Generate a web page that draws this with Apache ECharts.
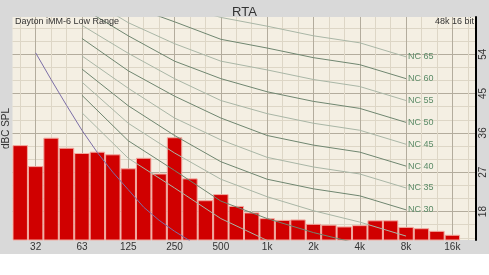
<!DOCTYPE html>
<html>
<head>
<meta charset="utf-8">
<script src="https://cdn.jsdelivr.net/npm/echarts@6/dist/echarts.min.js"></script>
<style>
html,body{margin:0;padding:0;background:#fff;}
#c{width:489px;height:275px;}
</style>
</head>
<body>
<div id="c"></div>
<script>
// 1/3-octave band centres (last slot empty)
const categories = ['25','31.5','40','50','63','80','100','125','160','200','250','315','400','500','630','800','1k','1.25k','1.6k','2k','2.5k','3.15k','4k','5k','6.3k','8k','10k','12.5k','16k','20k'];
const octaveLabels = ['32','63','125','250','500','1k','2k','4k','8k','16k'];
const yLabels = [18, 27, 36, 45, 54];
const yGrid = [12,15,18,21,24,27,30,33,36,39,42,45,48,51,54,57,60];

// RTA levels (dBC SPL) per band
const rtaLevels = [33.2,28.4,34.9,32.6,31.4,31.7,31.1,27.9,30.3,26.7,35.0,25.6,20.6,22.0,19.3,17.8,16.5,16.1,16.2,15.2,15.0,14.6,14.9,16.0,16.0,14.5,14.2,13.6,12.7,null];

// NC curves, values at octave bands 63..8k
const ncOctaveIdx = [4,7,10,13,16,19,22,25];
const nc65 = [73.6,69.2,65.4,62.4,60.4,58.2,56.6,53.4];
const nc60 = [70.6,65.2,61.4,57.4,55.4,53.2,51.6,48.4];
const nc55 = [67.6,61.2,56.4,52.4,50.4,48.2,46.6,43.4];
const nc50 = [64.6,58.2,52.4,48.4,45.4,43.2,41.6,38.4];
const nc45 = [60.6,54.2,48.4,43.4,40.4,38.2,36.6,33.4];
const nc40 = [57.6,50.2,44.4,39.4,35.4,33.2,31.6,28.4];
const nc35 = [53.6,46.2,39.4,34.4,30.4,28.2,26.6,23.4];
const nc30 = [50.6,42.2,35.4,29.4,25.4,23.2,21.6,18.4];
const nc25 = [47.6,38.2,31.4,25.4,21.4,18.2,15.6,12.4];
const nc20 = [44.6,34.2,27.4,20.4,16.4,13.2,10.6,7.4];
const nc15 = [40.6,30.2,23.4,16.4,11.4,8.2,5.6,2.4];

// purple reference line
const refIdx = [1,2,3,4,5,6,7,8,9,10,11];
const refVals = [54.3,48.2,42.3,36.6,31.5,27.0,23.0,19.0,16.0,13.5,11.3];

function spread(idx, vals){
  const arr = categories.map(() => null);
  idx.forEach((k,i) => { arr[k] = vals[i]; });
  return arr;
}

const ncList = [
  ['NC 65', nc65, false], ['NC 60', nc60, true], ['NC 55', nc55, false], ['NC 50', nc50, true],
  ['NC 45', nc45, false], ['NC 40', nc40, true], ['NC 35', nc35, false], ['NC 30', nc30, true],
  ['', nc25, false], ['', nc20, true], ['', nc15, false]
];

const series = [{
  type: 'bar',
  data: rtaLevels,
  barCategoryGap: '0%',
  itemStyle: { color: '#d00000', borderColor: '#f1aaa0', borderWidth: 1 },
  z: 2,
  silent: true
}];

ncList.forEach(([name, vals, dark]) => {
  series.push({
    type: 'line',
    data: spread(ncOctaveIdx, vals),
    connectNulls: true,
    showSymbol: false,
    symbol: 'none',
    lineStyle: { color: dark ? '#6f8670' : '#a9b6a6', width: 1 },
    z: 3,
    silent: true,
    endLabel: name ? { show: true, formatter: name, color: '#5b8b67', fontSize: 9, fontFamily: 'Liberation Sans, Arial, sans-serif', distance: 2 } : { show: false }
  });
});

series.push({
  type: 'line',
  data: spread(refIdx, refVals),
  connectNulls: true,
  symbol: 'none',
  lineStyle: { color: '#7c6ea6', width: 1 },
  z: 3,
  silent: true
});

const chart = echarts.init(document.getElementById('c'), null, { renderer: 'canvas' });
chart.setOption({
  animation: false,
  backgroundColor: '#d9d9d9',
  textStyle: { fontFamily: 'Liberation Sans, Arial, sans-serif' },
  title: {
    text: 'RTA', left: 'center', top: 1,
    textStyle: { fontSize: 13, fontWeight: 'normal', color: '#333', fontFamily: 'Liberation Sans, Arial, sans-serif' }
  },
  grid: { left: 12.5, right: 13.5, top: 17, bottom: 35, show: true, backgroundColor: '#f4efe3', borderWidth: 0 },
  xAxis: {
    type: 'category',
    data: categories,
    boundaryGap: true,
    axisLine: { show: false },
    axisTick: { show: false },
    axisLabel: {
      interval: 0, margin: 2, fontSize: 10, color: '#333',
      formatter: (v, i) => (i % 3 === 1 ? octaveLabels[(i - 1) / 3] : '')
    },
    splitLine: { show: true, interval: 0, alignWithLabel: true, lineStyle: { color: ['#ddd6c6', '#b3ac9d', '#ddd6c6'], width: 1 } }
  },
  yAxis: {
    type: 'value',
    position: 'right',
    min: 11.5, max: 62.5,
    axisLine: { show: true, lineStyle: { color: '#000', width: 2 } },
    axisTick: { show: false, customValues: yGrid },
    axisLabel: { customValues: yLabels, rotate: 90, fontSize: 10, color: '#333', margin: 3 },
    splitLine: { show: true, lineStyle: { color: ['#ddd6c6', '#ddd6c6', '#b3ac9d'], width: 1 } }
  },
  graphic: [
    { type: 'rect', shape: { x: 0, y: 254, width: 489, height: 21 }, style: { fill: '#ffffff' }, silent: true },
    { type: 'text', x: 15, y: 22, style: { text: 'Dayton iMM-6 Low Range', fontSize: 9, fill: '#333', textVerticalAlign: 'middle', verticalAlign: 'middle', fontFamily: 'Liberation Sans, Arial, sans-serif' }, z: 10 },
    { type: 'text', x: 474, y: 22, style: { text: '48k 16 bit', fontSize: 9, fill: '#333', align: 'right', textAlign: 'right', verticalAlign: 'middle', textVerticalAlign: 'middle', fontFamily: 'Liberation Sans, Arial, sans-serif' }, z: 10 },
    { type: 'text', x: 6, y: 128.5, rotation: Math.PI / 2, style: { text: 'dBC SPL', fontSize: 10, fill: '#333', align: 'center', textAlign: 'center', verticalAlign: 'middle', textVerticalAlign: 'middle', fontFamily: 'Liberation Sans, Arial, sans-serif' }, z: 10 }
  ],
  series: series
});
</script>
</body>
</html>
